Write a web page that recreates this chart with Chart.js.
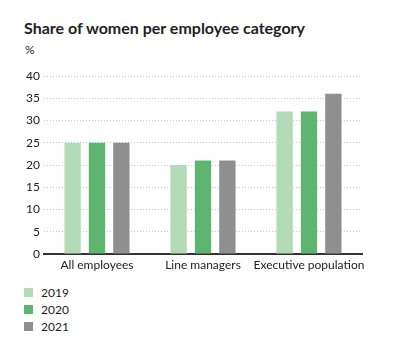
<!DOCTYPE html>
<html lang="en">
<head>
    <meta charset="UTF-8">
    <title>Share of women per employee category</title>
    <script src="https://cdn.jsdelivr.net/npm/chart.js"></script>
    <style>
        body {
            margin: 0;
            font-family: 'Lato', sans-serif;
            color: #222;
            background: #fff;
        }
        #wrap {
            position: relative;
            width: 406px;
            height: 342px;
            overflow: hidden;
        }
        #title {
            position: absolute;
            left: 24px;
            top: 18px;
            font-size: 16px;
            font-weight: bold;
            white-space: nowrap;
        }
        #unit {
            position: absolute;
            left: 25px;
            top: 42px;
            font-size: 12px;
        }
        #chartBox {
            position: absolute;
            left: 0;
            top: 60px;
            width: 406px;
            height: 215px;
        }
        /* legend stacked under the chart */
        #legend {
            position: absolute;
            left: 24px;
            top: 284px;
            font-size: 12px;
        }
        .item {
            height: 17px;
            line-height: 17px;
            display: flex;
            align-items: center;
        }
        .box {
            width: 9px;
            height: 9px;
            margin-right: 8px;
        }
    </style>
</head>
<body>
<div id="wrap">
    <div id="title">Share of women per employee category</div>
    <div id="unit">%</div>
    <div id="chartBox"><canvas id="chart"></canvas></div>
    <div id="legend"></div>
</div>

<script>
    var categories = ['All employees', 'Line managers', 'Executive population'];
    var years = ['2019', '2020', '2021'];
    var values2019 = [25, 20, 32];
    var values2020 = [25, 21, 32];
    var values2021 = [25, 21, 36];
    var yTicks = [0, 5, 10, 15, 20, 25, 30, 35, 40];

    var colors = ['#b3dbb7', '#5db56f', '#8f8f8f'];
    var series = [values2019, values2020, values2021];

    var datasets = [];
    for (var i = 0; i < years.length; i++) {
        datasets.push({
            label: years[i],
            data: series[i],
            backgroundColor: colors[i],
            borderWidth: 0,
            categoryPercentage: 0.69,
            barPercentage: 0.67
        });
    }

    Chart.defaults.font.family = "'Lato', sans-serif";
    Chart.defaults.color = '#222';

    new Chart(document.getElementById('chart'), {
        type: 'bar',
        data: { labels: categories, datasets: datasets },
        options: {
            responsive: true,
            maintainAspectRatio: false,
            animation: false,
            layout: { padding: { top: 16, right: 44, left: 0, bottom: 0 } },
            plugins: {
                legend: { display: false },
                tooltip: { enabled: false }
            },
            scales: {
                x: {
                    grid: { display: false, drawTicks: false },
                    border: { display: true, color: '#333', width: 2 },
                    ticks: { padding: 4, font: { size: 12 }, maxRotation: 0, autoSkip: false },
                    afterFit: function (scale) { scale.height = 21; }
                },
                y: {
                    min: 0,
                    max: 40,
                    afterBuildTicks: function (scale) {
                        scale.ticks = yTicks.map(function (v) { return { value: v }; });
                    },
                    grid: { color: '#c8c8c8', drawTicks: false, lineWidth: 1 },
                    border: { display: false, dash: [1, 2] },
                    ticks: { padding: 4, font: { size: 12 } },
                    afterFit: function (scale) { scale.width = 44; }
                }
            }
        }
    });

    // html legend, one row per year
    var legend = document.getElementById('legend');
    for (var j = 0; j < years.length; j++) {
        var row = document.createElement('div');
        row.className = 'item';
        var box = document.createElement('span');
        box.className = 'box';
        box.style.background = colors[j];
        var txt = document.createElement('span');
        txt.textContent = years[j];
        row.appendChild(box);
        row.appendChild(txt);
        legend.appendChild(row);
    }
</script>
</body>
</html>
